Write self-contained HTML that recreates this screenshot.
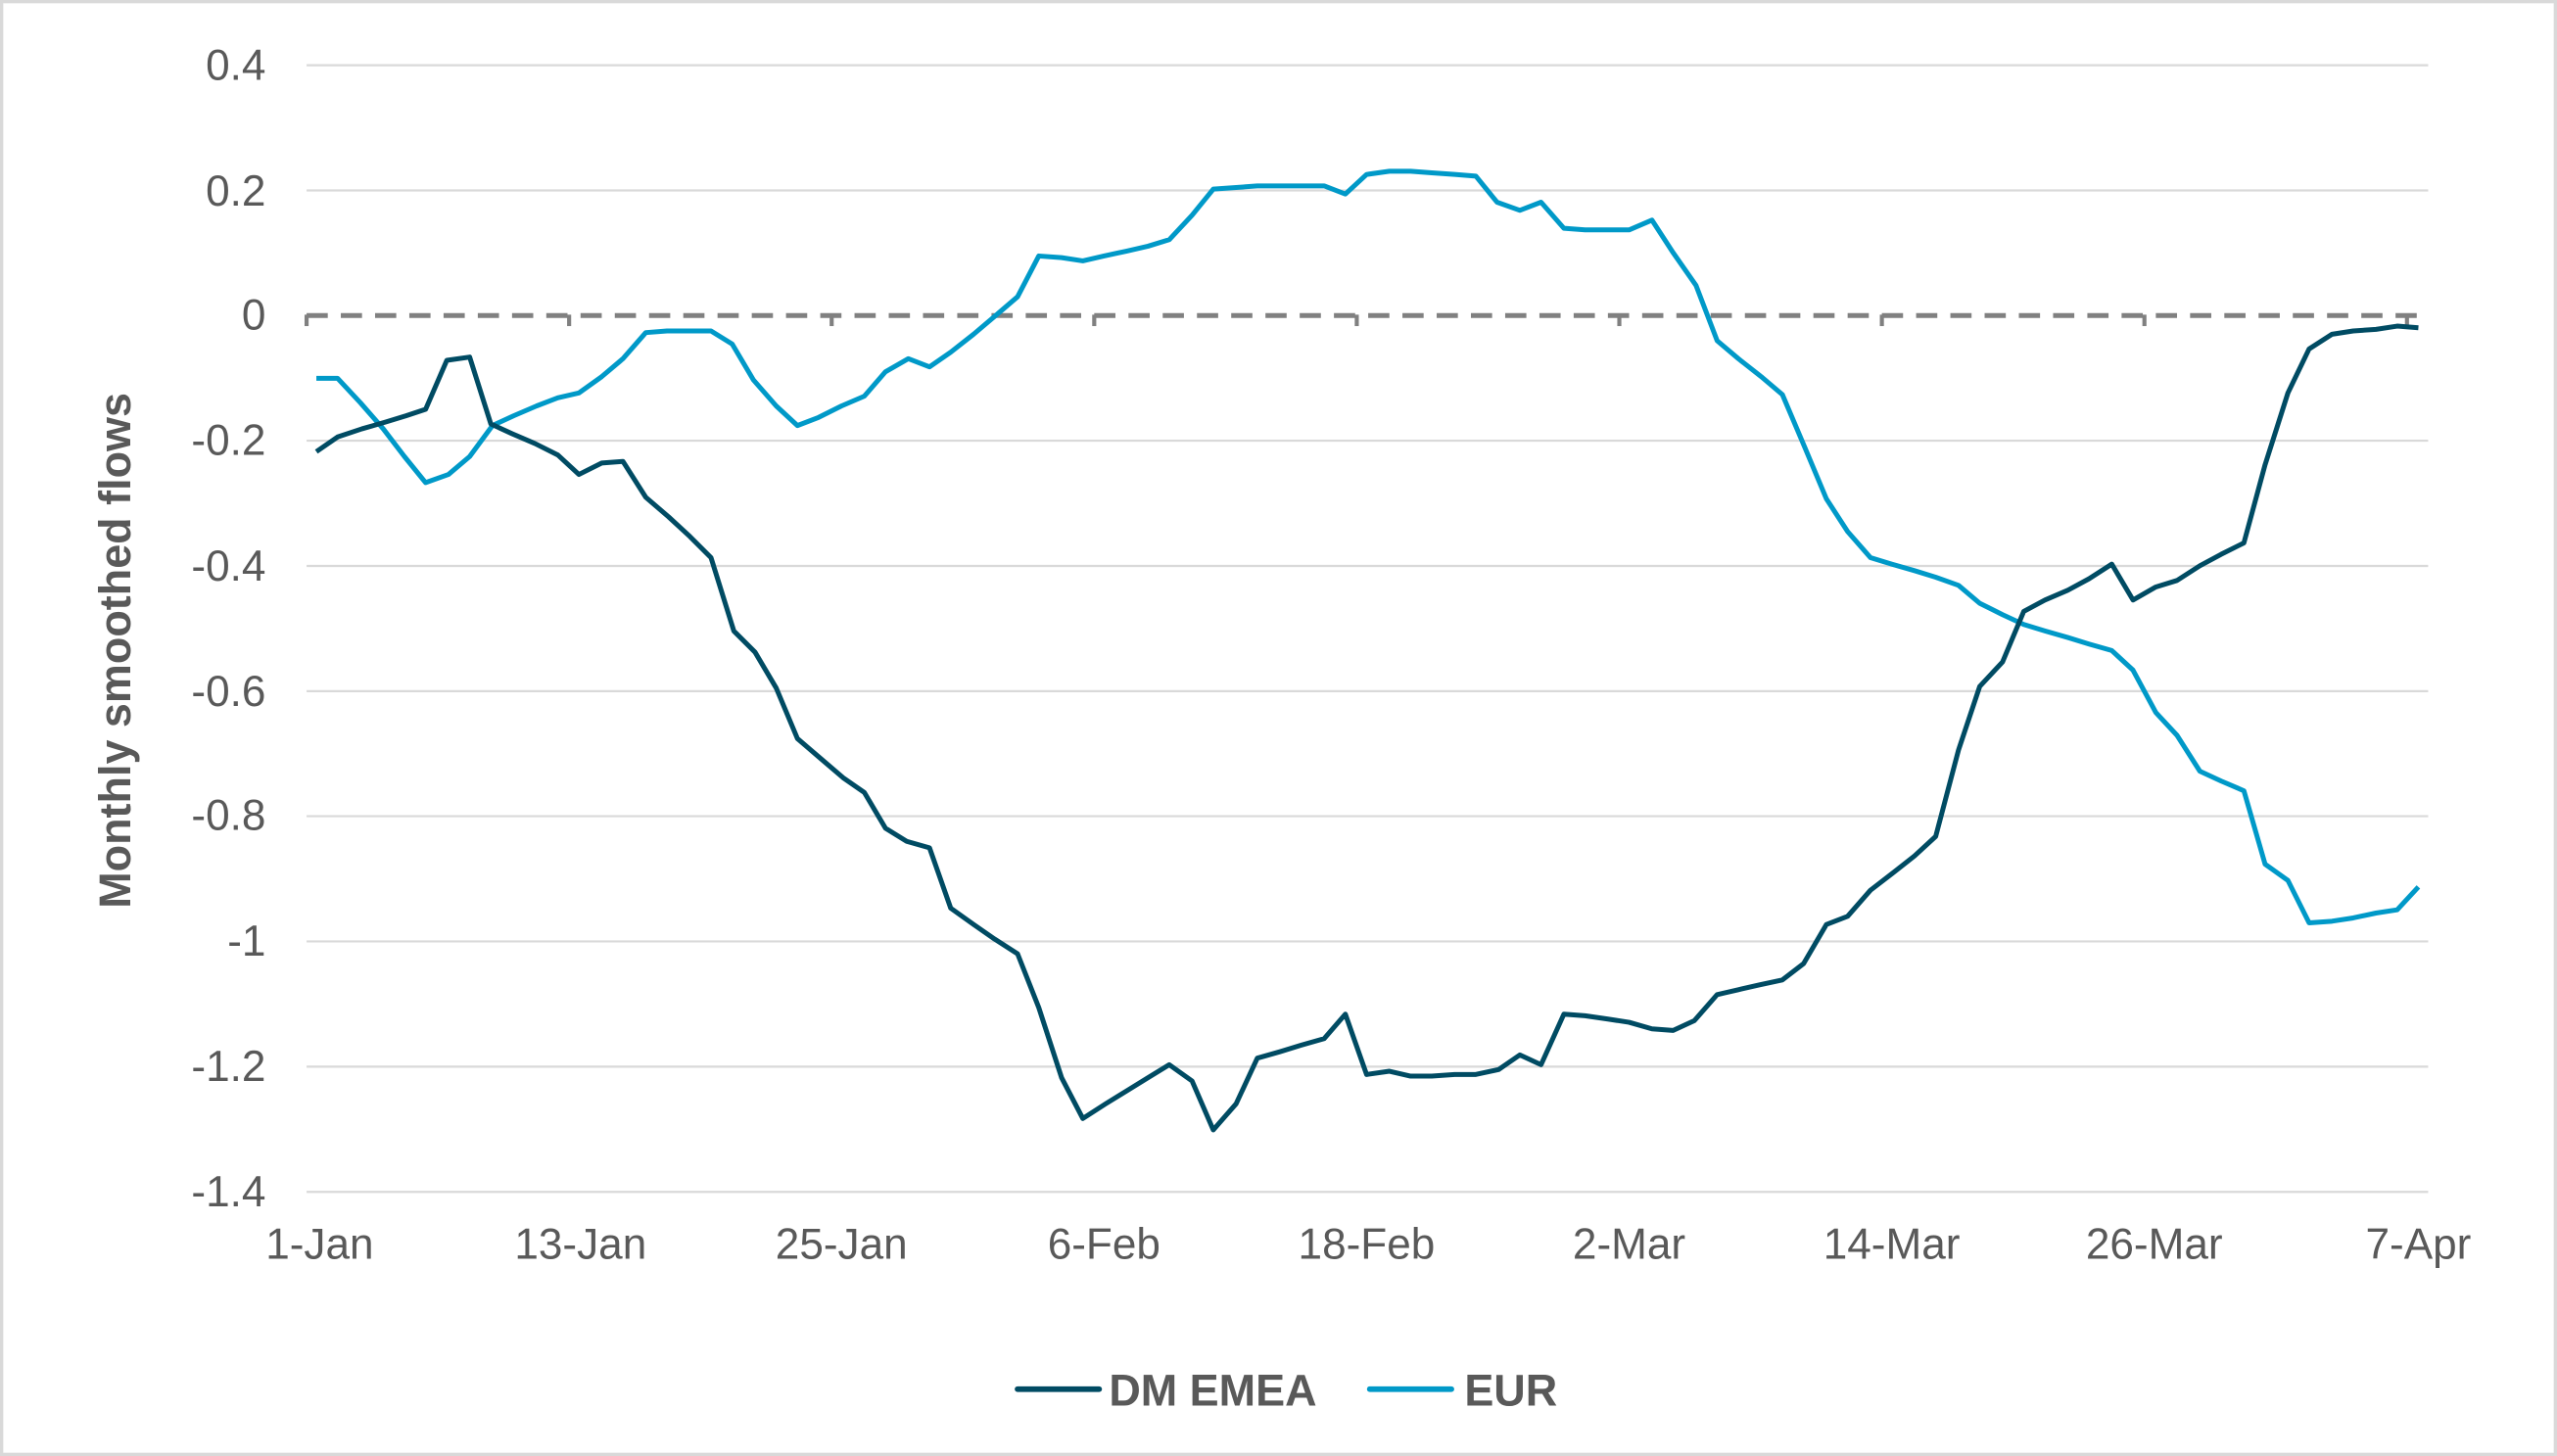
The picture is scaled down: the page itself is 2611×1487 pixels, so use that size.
<!DOCTYPE html>
<html><head><style>html,body{margin:0;padding:0;background:#fff}svg{display:block}</style></head>
<body>
<svg width="2611" height="1487" viewBox="0 0 1568 893" xmlns="http://www.w3.org/2000/svg" font-family="Liberation Sans, Arial, sans-serif">
<rect x="1" y="1" width="1566" height="891" fill="#fff" stroke="#d9d9d9" stroke-width="2"/>
<g stroke="#d9d9d9" stroke-width="1.3">
<line x1="188" x2="1489" y1="40" y2="40"/><line x1="188" x2="1489" y1="116.8" y2="116.8"/>
<line x1="188" x2="1489" y1="270.3" y2="270.3"/><line x1="188" x2="1489" y1="347.1" y2="347.1"/>
<line x1="188" x2="1489" y1="423.9" y2="423.9"/><line x1="188" x2="1489" y1="500.6" y2="500.6"/>
<line x1="188" x2="1489" y1="577.4" y2="577.4"/><line x1="188" x2="1489" y1="654.2" y2="654.2"/>
<line x1="188" x2="1489" y1="731" y2="731"/>
</g>
<line x1="188" x2="1489" y1="193.5" y2="193.5" stroke="#808080" stroke-width="3" stroke-dasharray="13 8"/>
<g stroke="#808080" stroke-width="2.5">
<line x1="188" x2="188" y1="193" y2="200"/><line x1="349" x2="349" y1="193" y2="200"/><line x1="510" x2="510" y1="193" y2="200"/><line x1="671" x2="671" y1="193" y2="200"/><line x1="832" x2="832" y1="193" y2="200"/><line x1="993" x2="993" y1="193" y2="200"/><line x1="1154" x2="1154" y1="193" y2="200"/><line x1="1315" x2="1315" y1="193" y2="200"/><line x1="1476" x2="1476" y1="193" y2="200"/>
</g>
<g fill="#595959" font-size="26.5" text-anchor="end">
<text x="163" y="49">0.4</text><text x="163" y="126">0.2</text><text x="163" y="202">0</text>
<text x="163" y="279">-0.2</text><text x="163" y="356">-0.4</text><text x="163" y="433">-0.6</text>
<text x="163" y="509">-0.8</text><text x="163" y="586">-1</text><text x="163" y="663">-1.2</text><text x="163" y="740">-1.4</text>
</g>
<g fill="#595959" font-size="26.5" text-anchor="middle">
<text x="196" y="772">1-Jan</text><text x="356" y="772">13-Jan</text><text x="516" y="772">25-Jan</text>
<text x="677" y="772">6-Feb</text><text x="838" y="772">18-Feb</text><text x="999" y="772">2-Mar</text>
<text x="1160" y="772">14-Mar</text><text x="1321" y="772">26-Mar</text><text x="1483" y="772">7-Apr</text>
</g>
<text transform="translate(80,399) rotate(-90)" text-anchor="middle" fill="#595959" font-size="27" font-weight="bold">Monthly smoothed flows</text>
<polyline fill="none" stroke="#0099c8" stroke-width="3" stroke-linejoin="round" points="194,232 207,232 221,247 235,263 248,280 261,296 275,291 288,280 302,261 315,255 329,249 342,244 355,241 369,231 382,220 396,204 409,203 423,203 436,203 449,211 462,233 476,249 489,261 502,256 516,249 530,243 543,228 557,220 570,225 583,216 597,205 610,194 624,182 637,157 651,158 664,160 677,157 691,154 704,151 717,147 731,132 744,116 758,115 771,114 785,114 798,114 812,114 825,119 838,107 852,105 865,105 878,106 892,107 905,108 918,124 932,129 945,124 959,140 972,141 986,141 999,141 1013,135 1026,155 1040,175 1053,209 1066,220 1080,231 1093,242 1107,275 1120,306 1133,326 1147,342 1160,346 1174,350 1187,354 1201,359 1214,370 1228,377 1241,383 1254,387 1268,391 1281,395 1295,399 1308,411 1322,437 1335,451 1349,473 1362,479 1376,485 1389,530 1403,540 1416,566 1430,565 1443,563 1457,560 1470,558 1483,544"/>
<polyline fill="none" stroke="#004b63" stroke-width="3" stroke-linejoin="round" points="194,277 207,268 222,263 236,259 249,255 261,251 274,221 288,219 301,260 314,266 328,272 342,279 355,291 369,284 382,283 396,305 410,317 423,329 436,342 450,387 463,400 476,422 489,453 503,465 517,477 530,486 543,508 556,516 570,520 583,557 597,567 610,576 624,585 637,618 651,661 664,686 678,677 691,669 704,661 717,653 731,663 744,693 758,677 771,649 785,645 798,641 812,637 825,622 838,659 852,657 865,660 878,660 892,659 905,659 919,656 932,647 945,653 959,622 972,623 986,625 999,627 1013,631 1026,632 1039,626 1053,610 1066,607 1079,604 1093,601 1106,591 1120,567 1133,562 1147,546 1160,536 1174,525 1187,513 1201,460 1214,421 1228,406 1241,375 1254,368 1268,362 1281,355 1295,346 1308,368 1322,360 1335,356 1349,347 1362,340 1376,333 1389,285 1403,241 1416,214 1430,205 1443,203 1457,202 1470,200 1483,201"/>
<line x1="624" x2="674" y1="852" y2="852" stroke="#004b63" stroke-width="3.5" stroke-linecap="round"/>
<text x="680" y="862" fill="#595959" font-size="27" font-weight="bold">DM EMEA</text>
<line x1="840" x2="890" y1="852" y2="852" stroke="#0099c8" stroke-width="3.5" stroke-linecap="round"/>
<text x="898" y="862" fill="#595959" font-size="27" font-weight="bold">EUR</text>
</svg>
</body></html>
